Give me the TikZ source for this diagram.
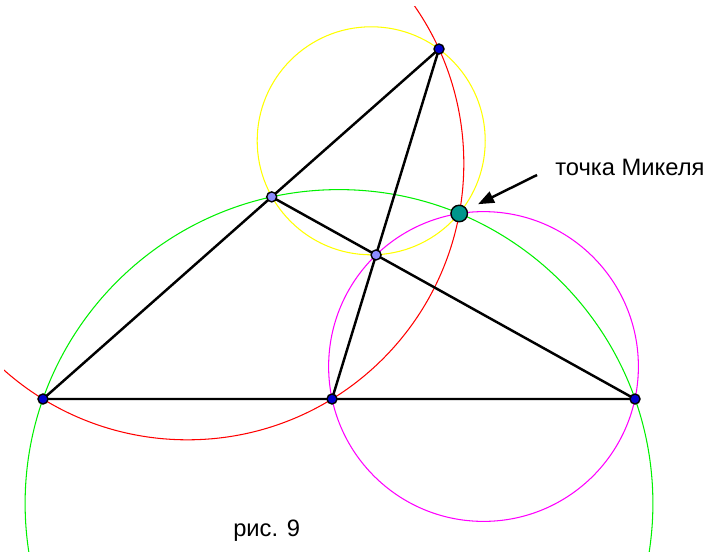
\documentclass[tikz,border=0pt]{standalone}
\usepackage{fontspec}
\setmainfont{Liberation Sans}
\usetikzlibrary{through,calc,arrows.meta}
\definecolor{ptblue}{RGB}{0,0,205}
\definecolor{ptlilac}{RGB}{140,140,255}
\definecolor{ptteal}{RGB}{0,150,140}
\definecolor{lgreen}{RGB}{0,240,0}
\definecolor{lred}{RGB}{255,0,0}
\definecolor{lmagenta}{RGB}{255,0,255}
\definecolor{lyellow}{RGB}{255,255,0}
\begin{document}
\begin{tikzpicture}[x=0.02cm,y=-0.02cm,
    side/.style={line width=1.4pt},
    circ/.style={line width=0.6pt},
    dot/.style={circle,draw,line width=0.8pt,fill=ptblue,inner sep=0pt,minimum size=0.2cm},
    txt/.style={font=\fontsize{13.5}{16}\selectfont,inner sep=0pt}]
\useasboundingbox (0,0) rectangle (722,551);
% vertices and cevians
\coordinate (A) at (43,399);
\coordinate (B) at (635,399);
\coordinate (C) at (439,49);
\coordinate (D) at (332,399);
\coordinate (E) at ($(A)!0.5775!(C)$);
\coordinate (F) at (intersection of C--D and B--E);
\coordinate (M) at (459.2,213.5);
% centres of the four circles
\coordinate (Or) at (187.5,163.5);
\coordinate (Og) at (339,503.5);
\coordinate (Om) at (483.5,366.5);
\coordinate (Oy) at (371.2,140.8);
\begin{scope}
  \clip (4,6.5) rectangle (722,551);
  \node[circ,draw=lgreen,circle through=(A)] (cg) at (Og) {};
  \node[circ,draw=lred,circle through=(A)] (cr) at (Or) {};
  \node[circ,draw=lmagenta,circle through=(B)] (cm) at (Om) {};
  \node[circ,draw=lyellow,circle through=(C)] (cy) at (Oy) {};
\end{scope}
\draw[side] (A) -- (B) (A) -- (C) (C) -- (D) (B) -- (E);
\foreach \p in {A,B,C,D} \node[dot] (n\p) at (\p) {};
\foreach \p in {E,F} \node[dot,fill=ptlilac] (n\p) at (\p) {};
\node[dot,fill=ptteal,minimum size=0.33cm] (nM) at (M) {};
\node[txt,anchor=base west] (lbl) at (555,175) {точка Микеля};
\draw[line width=1.4pt,-{Triangle[length=3.2mm,width=2.4mm]},shorten >=0.42cm]
  ($(lbl.base west)+(-18,0)$) -- (M);
\node[txt,anchor=base] (cap) at (266.7,536) {рис. 9};
\end{tikzpicture}
\end{document}
